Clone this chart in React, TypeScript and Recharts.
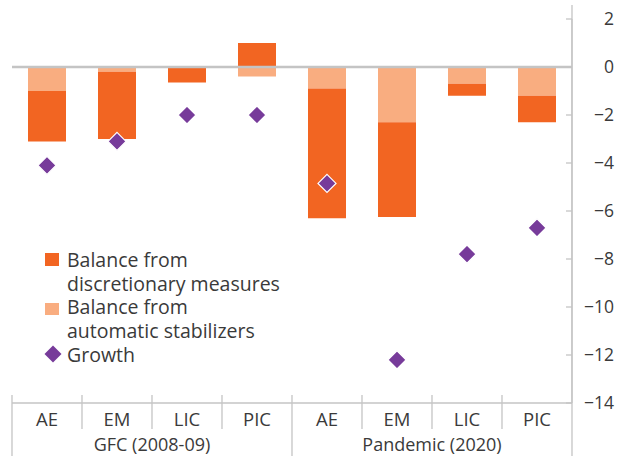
import {
  Bar,
  ComposedChart,
  ReferenceLine,
  Scatter,
  XAxis,
  YAxis,
} from "recharts";

const categories = ["AE", "EM", "LIC", "PIC", "AE", "EM", "LIC", "PIC"];
const groups = ["GFC (2008-09)", "Pandemic (2020)"];
const automatic = [-1.0, -0.2, 0, -0.4, -0.9, -2.3, -0.7, -1.2];
const discretionary = [-2.1, -2.8, -0.65, 1.0, -5.4, -3.95, -0.5, -1.1];
const growth = [-4.1, -3.1, -2.0, -2.0, -4.85, -12.2, -7.8, -6.7];
const yTicks = [2, 0, -2, -4, -6, -8, -10, -12, -14];

const DARK = "#f26522";
const LIGHT = "#f9ad80";
const PURPLE = "#773b9a";
const TEXT = "#3a3a3a";
const LINE = "#c4c4c4";
const FONT = "'Open Sans', sans-serif";

const data = categories.map((c, i) => ({
  id: i,
  cat: c,
  automatic: automatic[i],
  discretionary: discretionary[i],
  growth: growth[i],
}));

const Diamond = (props: any) => {
  const { cx, cy } = props;
  if (cx == null || cy == null) return null;
  const r = 9;
  return (
    <polygon
      points={`${cx},${cy - r} ${cx + r},${cy} ${cx},${cy + r} ${cx - r},${cy}`}
      fill={PURPLE}
      stroke="#fff"
      strokeWidth={1.2}
    />
  );
};

const XTick = (props: any) => {
  const { x, index } = props;
  const step = 70;
  const left = x - step / 2;
  const right = x + step / 2;
  const base = 403;
  return (
    <g>
      <text x={x} y={426} textAnchor="middle" fill={TEXT} fontSize={18.5} fontFamily={FONT}>
        {categories[index]}
      </text>
      {index % 4 === 0 && (
        <>
          <line x1={left} x2={left} y1={base - 8} y2={456} stroke={LINE} strokeWidth={1.3} />
          <text
            x={left + step * 2}
            y={451}
            textAnchor="middle"
            fill={TEXT}
            fontSize={18}
            fontFamily={FONT}
          >
            {groups[index / 4]}
          </text>
        </>
      )}
      {index % 4 !== 3 && (
        <line x1={right} x2={right} y1={base - 8} y2={429} stroke={LINE} strokeWidth={1.3} />
      )}
      {index === 7 && (
        <line x1={right} x2={right} y1={5} y2={456} stroke={LINE} strokeWidth={1.3} />
      )}
    </g>
  );
};

const YTick = (props: any) => {
  const { y, payload } = props;
  const v = payload.value as number;
  const label = v < 0 ? `\u2212${Math.abs(v)}` : `${v}`;
  return (
    <g>
      <line x1={566} x2={572} y1={y} y2={y} stroke={LINE} strokeWidth={1.3} />
      <text x={614} y={y + 6} textAnchor="end" fill={TEXT} fontSize={17.5} fontFamily={FONT}>
        {label}
      </text>
    </g>
  );
};

const LeftTick = (props: any) => {
  const { y } = props;
  return <line x1={10} x2={17} y1={y} y2={y} stroke="#c8c8c8" strokeWidth={2} />;
};

const LegendBox = () => {
  const row = { display: "flex", alignItems: "flex-start" } as const;
  const text = { fontSize: 19.5, color: TEXT, fontFamily: FONT, lineHeight: "23.7px" };
  return (
    <div style={{ position: "absolute", left: 45, top: 248, width: 300 }}>
      <div style={row}>
        <div style={{ width: 14, height: 13, background: DARK, marginTop: 5, marginRight: 8 }} />
        <div style={text}>
          Balance from
          <br />
          discretionary measures
        </div>
      </div>
      <div style={row}>
        <div style={{ width: 14, height: 12, background: LIGHT, marginTop: 8, marginRight: 8 }} />
        <div style={text}>
          Balance from
          <br />
          automatic stabilizers
        </div>
      </div>
      <div style={row}>
        <svg width={18} height={18} style={{ marginTop: 2, marginLeft: -1, marginRight: 5 }}>
          <polygon points="9,0.5 17.5,9 9,17.5 0.5,9" fill={PURPLE} />
        </svg>
        <div style={text}>Growth</div>
      </div>
    </div>
  );
};

export default function App() {
  return (
    <div style={{ position: "absolute", left: 0, top: 0, width: 623, height: 458, background: "#fff" }}>
      <ComposedChart
        width={623}
        height={458}
        data={data}
        stackOffset="sign"
        margin={{ top: 19, right: 0, left: 0, bottom: 0 }}
      >
        <XAxis
          dataKey="id"
          xAxisId="x"
          type="category"
          height={55}
          axisLine={{ stroke: LINE, strokeWidth: 1.3 }}
          tickLine={false}
          tick={<XTick />}
          interval={0}
        />
        <YAxis
          yAxisId="l"
          orientation="left"
          width={12}
          domain={[-14, 2]}
          ticks={yTicks}
          axisLine={false}
          tickLine={false}
          tick={<LeftTick />}
        />
        <YAxis
          yAxisId="r"
          orientation="right"
          width={51}
          domain={[-14, 2]}
          ticks={yTicks}
          axisLine={{ stroke: LINE, strokeWidth: 1.3 }}
          tickLine={false}
          tick={<YTick />}
        />
        <ReferenceLine y={0} xAxisId="x" yAxisId="r" stroke={LINE} strokeWidth={2.5} />
        <Bar
          dataKey="automatic"
          stackId="a"
          fill={LIGHT}
          barSize={38}
          xAxisId="x"
          yAxisId="r"
          isAnimationActive={false}
        />
        <Bar
          dataKey="discretionary"
          stackId="a"
          fill={DARK}
          barSize={38}
          xAxisId="x"
          yAxisId="r"
          isAnimationActive={false}
        />
        <Scatter
          dataKey="growth"
          xAxisId="x"
          yAxisId="r"
          shape={<Diamond />}
          isAnimationActive={false}
        />
      </ComposedChart>
      <LegendBox />
    </div>
  );
}
